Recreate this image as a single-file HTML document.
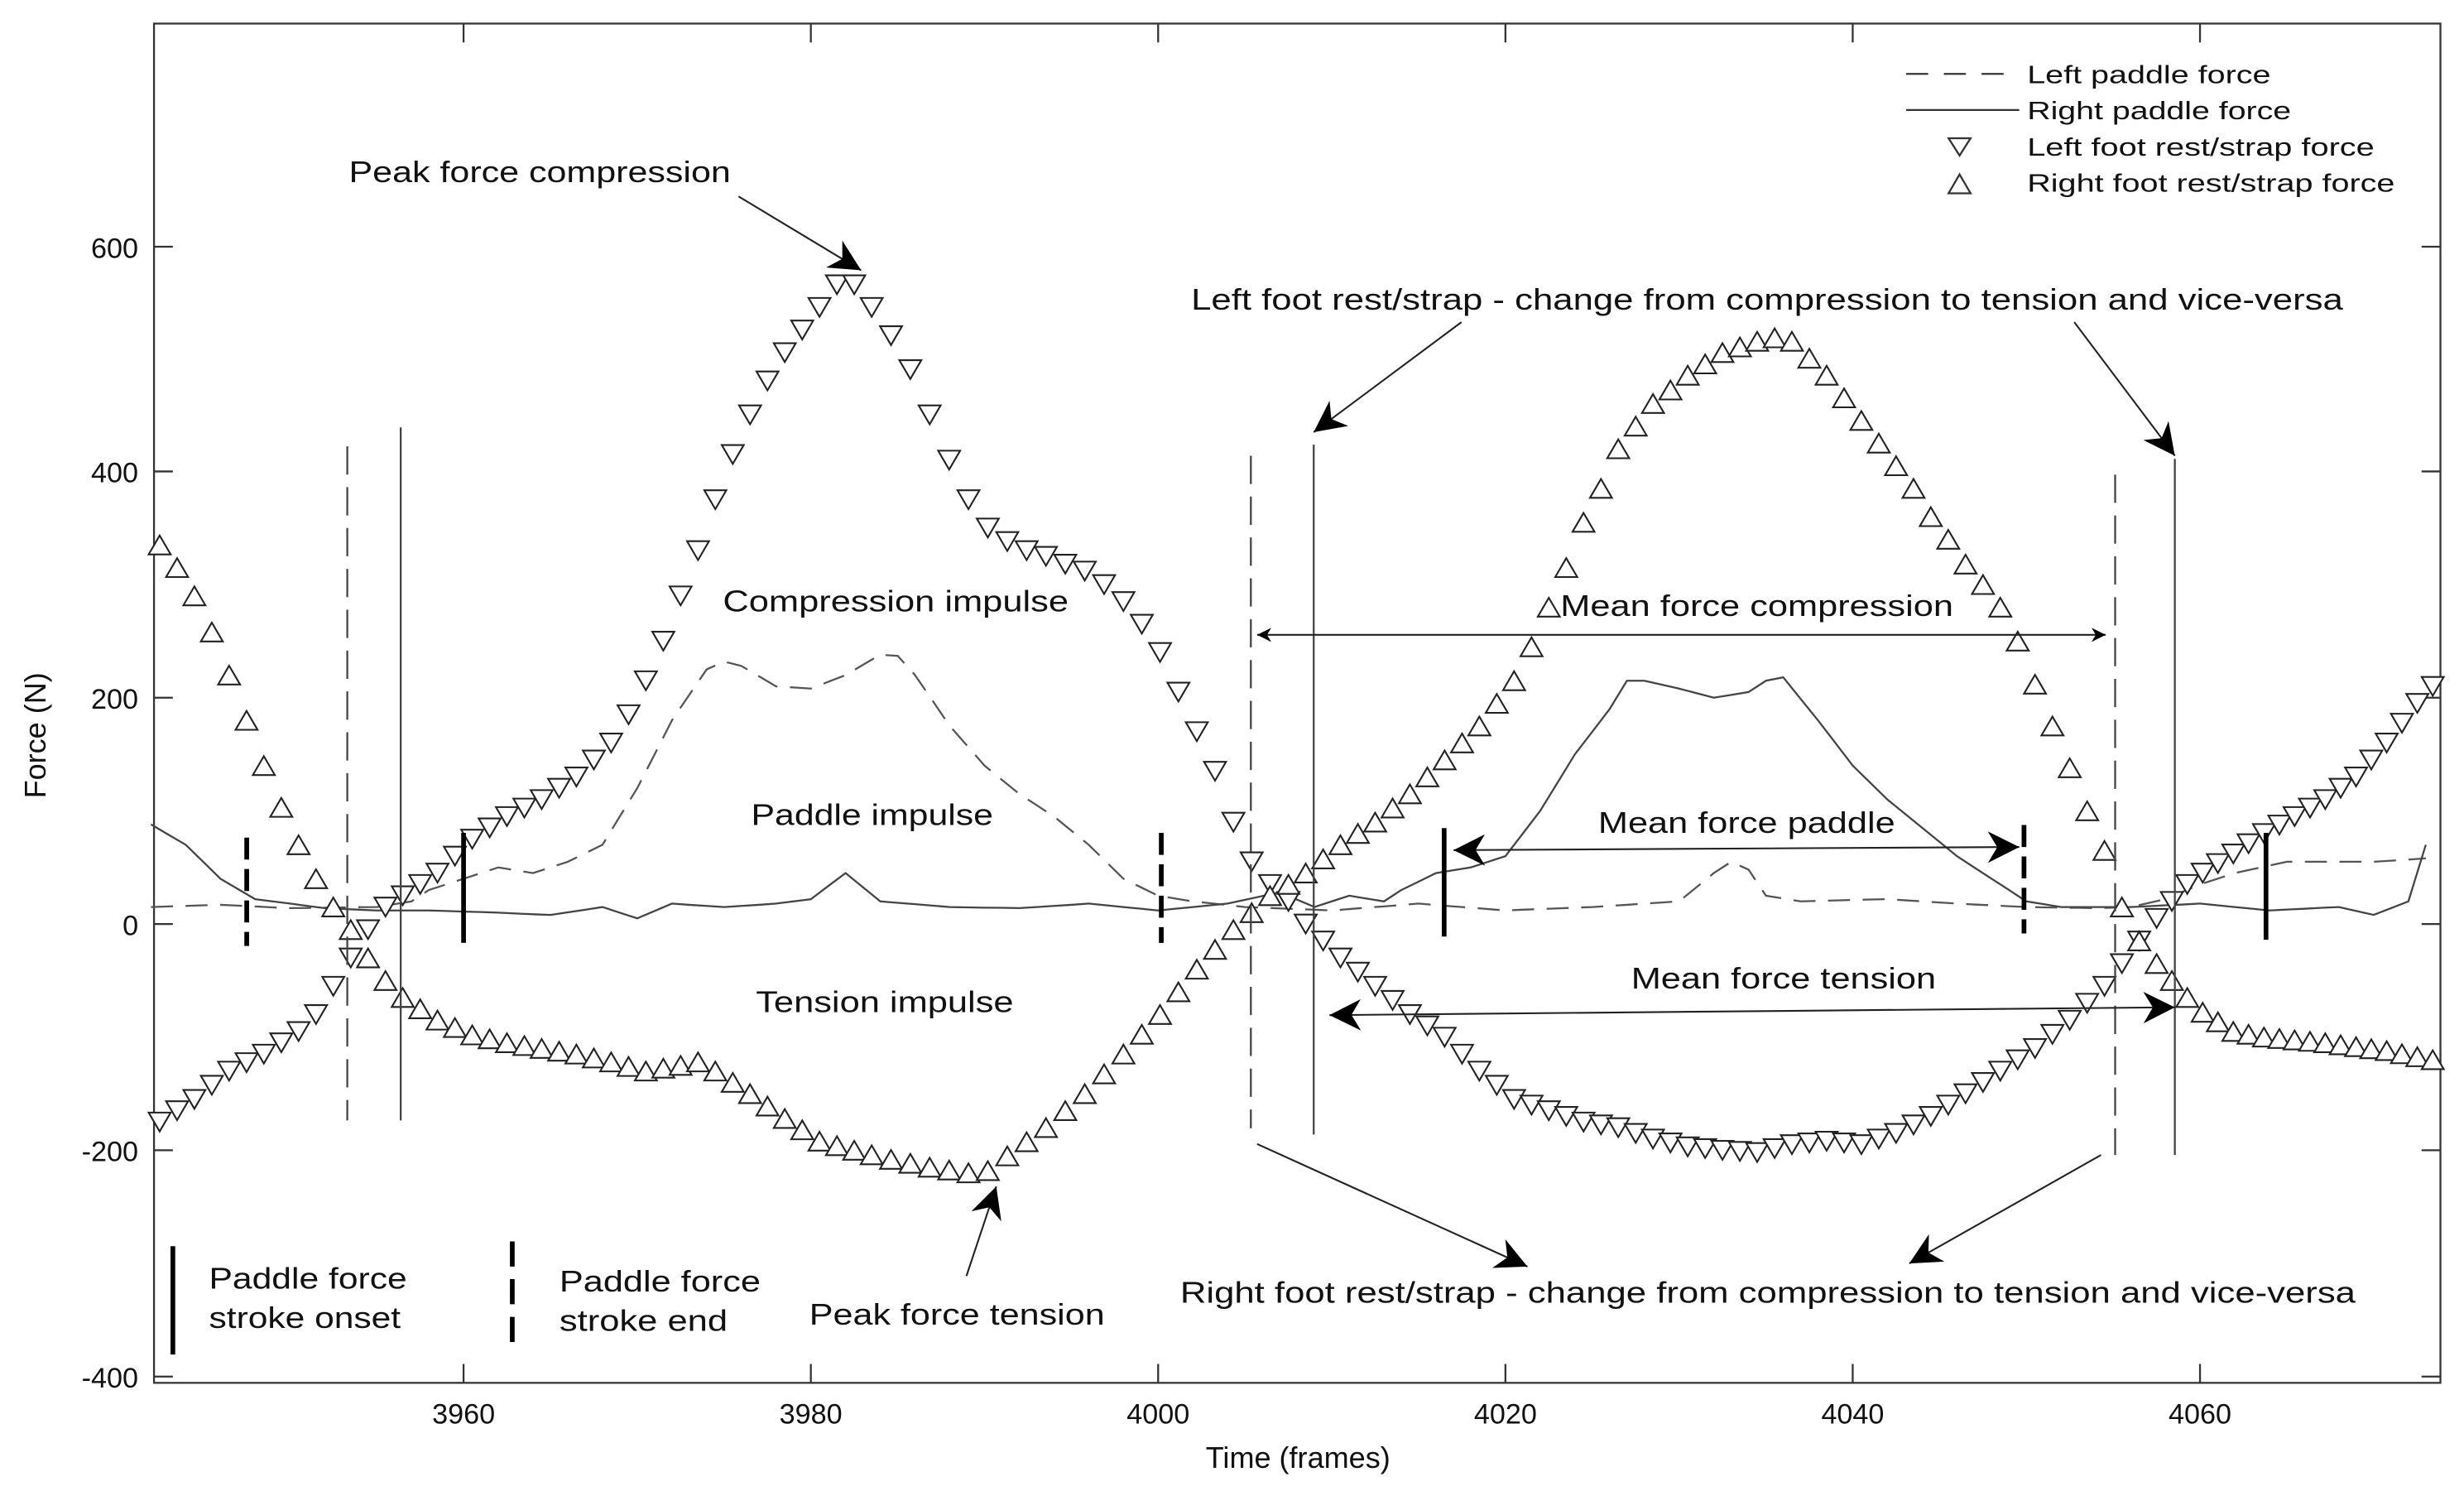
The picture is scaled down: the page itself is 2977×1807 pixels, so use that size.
<!DOCTYPE html>
<html><head><meta charset="utf-8"><style>
html,body{margin:0;padding:0;background:#fff;}
svg{display:block;}
text{font-family:"Liberation Sans",Arial,sans-serif;fill:#111;}
</style></head><body>
<svg id="s" width="2977" height="1807" viewBox="0 0 1568 952" preserveAspectRatio="none" xmlns="http://www.w3.org/2000/svg">
<defs>
<marker id="ah" viewBox="0 0 10 10" refX="10" refY="5" markerWidth="9" markerHeight="9" orient="auto-start-reverse" markerUnits="userSpaceOnUse">
<path d="M0,0 L10,5 L0,10 L3,5 z" fill="#000"/>
</marker>
<marker id="ahb" viewBox="0 0 10 10" refX="10" refY="5" markerWidth="20" markerHeight="20" orient="auto-start-reverse" markerUnits="userSpaceOnUse">
<path d="M0,0 L10,5 L0,10 L3,5 z" fill="#000"/>
</marker>
</defs>
<rect x="0" y="0" width="1568" height="952" fill="#fff"/>
<g stroke="#333" stroke-width="1.2" fill="none">
<rect x="98" y="15" width="1455" height="865"/>
<path d="M295,880v-12M516,880v-12M737,880v-12M958,880v-12M1179,880v-12M1400,880v-12
M295,15v12M516,15v12M737,15v12M958,15v12M1179,15v12M1400,15v12
M98,157h12M98,300h12M98,444h12M98,588h12M98,732h12M98,876h12
M1553,157h-12M1553,300h-12M1553,444h-12M1553,588h-12M1553,732h-12M1553,876h-12"/>
</g>
<g font-size="18" text-anchor="end">
<text x="88" y="164">600</text><text x="88" y="307">400</text><text x="88" y="451">200</text>
<text x="88" y="595">0</text><text x="88" y="739">-200</text><text x="88" y="883">-400</text>
</g>
<g font-size="18" text-anchor="middle">
<text x="295" y="906">3960</text><text x="516" y="906">3980</text><text x="737" y="906">4000</text>
<text x="958" y="906">4020</text><text x="1179" y="906">4040</text><text x="1400" y="906">4060</text>
<text x="826" y="934" font-size="19">Time (frames)</text>
<text x="0" y="0" font-size="19" transform="translate(29,468) rotate(-90)">Force (N)</text>
</g>

<g id="data"></g>

<g stroke="#444" stroke-width="1.2" fill="none">
<path d="M221,284V713M796,290V718M1346,302V735" stroke-dasharray="18,8"/>
<path d="M255,272V713M836,283V722M1384,292V735"/>
</g>
<g stroke="#000" stroke-width="3" fill="none">
<path d="M295,530V600M919,527V596M1442,530V598"/>
<path d="M157,533V602M739,530V600M1288,525V594" stroke-dasharray="14,6"/>
<path d="M110,793V862"/>
<path d="M326,790V860" stroke-dasharray="16,8"/>
</g>

<g stroke="#222" stroke-width="1.1" fill="none">
<line x1="470" y1="125" x2="548" y2="172" marker-end="url(#ahb)"/>
<line x1="930" y1="205" x2="836" y2="275" marker-end="url(#ahb)"/>
<line x1="1320" y1="205" x2="1384" y2="290" marker-end="url(#ahb)"/>
<line x1="800" y1="728" x2="972" y2="806" marker-end="url(#ahb)"/>
<line x1="1337" y1="735" x2="1215" y2="804" marker-end="url(#ahb)"/>
<line x1="615" y1="812" x2="634" y2="755" marker-end="url(#ahb)"/>
<line x1="800" y1="404" x2="1340" y2="404" marker-start="url(#ah)" marker-end="url(#ah)"/>
<line x1="925" y1="541" x2="1285" y2="539" marker-start="url(#ahb)" marker-end="url(#ahb)"/>
<line x1="846" y1="646" x2="1384" y2="641" marker-start="url(#ahb)" marker-end="url(#ahb)"/>
</g>

<g font-size="19">
<text x="222" y="116" textLength="243" lengthAdjust="spacingAndGlyphs">Peak force compression</text>
<text x="758" y="197" textLength="733" lengthAdjust="spacingAndGlyphs">Left foot rest/strap - change from compression to tension and vice-versa</text>
<text x="460" y="389" textLength="220" lengthAdjust="spacingAndGlyphs">Compression impulse</text>
<text x="993" y="392" textLength="250" lengthAdjust="spacingAndGlyphs">Mean force compression</text>
<text x="478" y="525" textLength="154" lengthAdjust="spacingAndGlyphs">Paddle impulse</text>
<text x="1017" y="530" textLength="189" lengthAdjust="spacingAndGlyphs">Mean force paddle</text>
<text x="481" y="644" textLength="164" lengthAdjust="spacingAndGlyphs">Tension impulse</text>
<text x="1038" y="629" textLength="194" lengthAdjust="spacingAndGlyphs">Mean force tension</text>
<text x="515" y="843" textLength="188" lengthAdjust="spacingAndGlyphs">Peak force tension</text>
<text x="751" y="829" textLength="748" lengthAdjust="spacingAndGlyphs">Right foot rest/strap - change from compression to tension and vice-versa</text>
<text x="133" y="820" textLength="126" lengthAdjust="spacingAndGlyphs">Paddle force</text>
<text x="133" y="845" textLength="122" lengthAdjust="spacingAndGlyphs">stroke onset</text>
<text x="356" y="822" textLength="128" lengthAdjust="spacingAndGlyphs">Paddle force</text>
<text x="356" y="847" textLength="107" lengthAdjust="spacingAndGlyphs">stroke end</text>
</g>

<g stroke="#333" stroke-width="1.2" fill="none">
<path d="M1213,47h70" stroke-dasharray="14,10"/>
<path d="M1213,70h72"/>
<path d="M1240,88h14l-7,11z"/>
<path d="M1240,123h14l-7,-12z"/>
</g>
<g font-size="16">
<text x="1290" y="53" textLength="155" lengthAdjust="spacingAndGlyphs">Left paddle force</text>
<text x="1290" y="76" textLength="168" lengthAdjust="spacingAndGlyphs">Right paddle force</text>
<text x="1290" y="99" textLength="221" lengthAdjust="spacingAndGlyphs">Left foot rest/strap force</text>
<text x="1290" y="122" textLength="234" lengthAdjust="spacingAndGlyphs">Right foot rest/strap force</text>
</g>
</svg>
<script>
(function(){
var X=function(t){return 295+(t-3960)*11.05;};
var Y=function(f){return 588-f*0.72;};
function lin(k,t){for(var i=0;i<k.length-1;i++){if(t>=k[i][0]&&t<=k[i+1][0]){var a=k[i],b=k[i+1];var r=(b[0]==a[0])?0:(t-a[0])/(b[0]-a[0]);return a[1]+r*(b[1]-a[1]);}}return 0;}
function interp(k){var o=[];for(var t=3942;t<=4073;t++){o.push([t,lin(k,t)]);}return o;}
var SH=[[3942,0.5],[3983,0.5],[3996,2],[4005,2.5],[4055,2.5],[4073,0.4]];
function W(t){return t+lin(SH,t);}
var L=[[3942,-175],[3944,-155],[3946,-130],[3948,-115],[3950,-95],[3951,-80],[3952,-55],[3953,-30],[3954,-5],[3955,15],[3956,25],[3958,45],[3960,75],[3962,95],[3964,110],[3966,130],[3968,160],[3969,185],[3970,215],[3971,250],[3972,290],[3973,330],[3974,375],[3975,415],[3976,450],[3977,480],[3978,505],[3979,525],[3980,545],[3981,565],[3982,565],[3983,545],[3984,520],[3985,490],[3986,450],[3987,410],[3988,375],[3989,350],[3990,338],[3991,330],[3992,325],[3993,318],[3994,312],[3995,300],[3996,285],[3997,265],[3998,240],[3999,205],[4000,170],[4001,135],[4002,90],[4003,55],[4004,35],[4005,20],[4006,0],[4007,-15],[4008,-30],[4010,-55],[4012,-80],[4014,-100],[4016,-130],[4018,-155],[4020,-165],[4022,-175],[4024,-180],[4026,-190],[4028,-197],[4030,-200],[4032,-202],[4034,-195],[4036,-192],[4038,-195],[4040,-185],[4042,-170],[4044,-150],[4046,-130],[4048,-110],[4050,-85],[4052,-55],[4053,-35],[4054,-15],[4055,5],[4056,20],[4057,35],[4058,45],[4060,62],[4062,80],[4064,95],[4066,110],[4068,130],[4070,160],[4072,195],[4073,210]];
var R=[[3942,335],[3943,315],[3944,290],[3945,258],[3946,220],[3947,180],[3948,140],[3949,103],[3950,70],[3951,40],[3952,15],[3953,-5],[3954,-30],[3955,-50],[3956,-65],[3957,-75],[3958,-85],[3960,-98],[3962,-105],[3964,-110],[3966,-115],[3968,-122],[3970,-130],[3972,-125],[3973,-122],[3974,-130],[3976,-150],[3978,-172],[3980,-192],[3982,-200],[3984,-208],[3986,-215],[3988,-220],[3989,-218],[3990,-205],[3992,-180],[3994,-150],[3996,-115],[3998,-80],[4000,-40],[4002,-5],[4004,25],[4006,45],[4008,70],[4010,90],[4012,115],[4014,145],[4016,175],[4018,215],[4019,245],[4020,280],[4021,315],[4022,355],[4023,385],[4024,420],[4025,440],[4026,460],[4027,472],[4028,485],[4029,495],[4030,505],[4031,510],[4032,515],[4033,518],[4034,515],[4035,500],[4036,485],[4037,465],[4038,445],[4039,425],[4040,405],[4041,385],[4042,360],[4043,340],[4044,318],[4045,300],[4046,280],[4047,250],[4048,212],[4049,175],[4050,138],[4051,100],[4052,65],[4053,15],[4054,-15],[4055,-35],[4056,-50],[4057,-65],[4058,-78],[4060,-95],[4062,-100],[4066,-105],[4070,-112],[4073,-120]];
var LP=[[3942,15],[3946,17],[3950,14],[3955,15],[3957,20],[3958,30],[3960,40],[3962,50],[3964,45],[3966,55],[3968,70],[3970,120],[3972,180],[3974,225],[3975,232],[3976,228],[3978,210],[3980,208],[3982,220],[3984,238],[3985,237],[3986,220],[3988,175],[3990,140],[3992,115],[3994,95],[3996,70],[3998,40],[4000,25],[4002,20],[4005,15],[4010,12],[4015,18],[4020,12],[4025,15],[4030,20],[4032,45],[4033,55],[4034,48],[4035,25],[4037,20],[4042,22],[4046,18],[4050,15],[4054,14],[4056,15],[4058,22],[4060,35],[4062,45],[4065,55],[4070,55],[4073,58]];
var RP=[[3942,88],[3944,70],[3946,40],[3948,22],[3950,18],[3952,14],[3955,12],[3958,12],[3962,10],[3965,8],[3968,15],[3970,5],[3972,18],[3975,15],[3978,18],[3980,22],[3982,45],[3984,20],[3988,15],[3992,14],[3996,18],[4000,12],[4004,18],[4007,28],[4009,15],[4011,25],[4013,20],[4014,30],[4016,45],[4018,50],[4020,60],[4022,100],[4024,150],[4026,190],[4027,215],[4028,215],[4030,208],[4032,200],[4034,205],[4035,215],[4036,218],[4038,180],[4040,140],[4042,110],[4044,85],[4046,60],[4048,40],[4050,20],[4052,15],[4056,15],[4060,18],[4064,12],[4068,15],[4070,8],[4072,20],[4073,70]];
function path(k){var p=interp(k),d='';for(var i=0;i<p.length;i++){d+=(i?'L':'M')+X(p[i][0]).toFixed(1)+','+Y(p[i][1]).toFixed(1);}return d;}
var g=document.getElementById('data'),s='';
s+='<path d="'+path(LP)+'" fill="none" stroke="#555" stroke-width="1.2" stroke-dasharray="14,8"/>';
s+='<path d="'+path(RP)+'" fill="none" stroke="#444" stroke-width="1.2"/>';
var pl=interp(L),pr=interp(R);
for(var i=0;i<pl.length;i++){var x=X(W(pl[i][0])),y=Y(pl[i][1]);if(x>1549)continue;s+='<path d="M'+(x-7).toFixed(1)+','+(y-6).toFixed(1)+'h14l-7,12z" fill="#fff" stroke="#222" stroke-width="1.1"/>';}
for(var i=0;i<pr.length;i++){var x=X(W(pr[i][0])),y=Y(pr[i][1]);if(x>1549)continue;s+='<path d="M'+(x-7).toFixed(1)+','+(y+6).toFixed(1)+'h14l-7,-12z" fill="#fff" stroke="#222" stroke-width="1.1"/>';}
g.innerHTML=s;
})();
</script>
</body></html>
